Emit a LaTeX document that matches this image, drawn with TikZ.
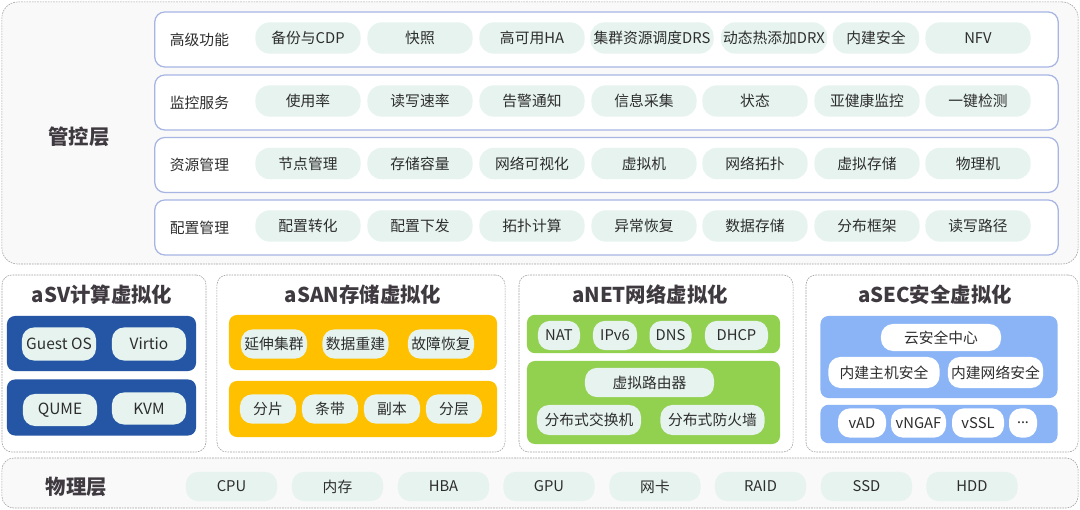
\documentclass[tikz,border=0pt]{standalone}
\usepackage{fontspec}
\setmainfont{Noto Sans CJK SC}
\newfontfamily\latinfont{Noto Sans}
\usepackage{tikz}
\usetikzlibrary{positioning}
\definecolor{cpgray}{RGB}{63,58,64}
\definecolor{cptext}{RGB}{45,45,45}
\definecolor{cpmint}{RGB}{230,243,239}
\definecolor{cprow}{RGB}{167,181,227}
\definecolor{cpback}{RGB}{249,249,249}
\definecolor{cpnavy}{RGB}{36,86,165}
\definecolor{cpyellow}{RGB}{255,192,0}
\definecolor{cpgreen}{RGB}{146,208,80}
\definecolor{cpsky}{RGB}{138,180,246}

\begin{document}
\begin{tikzpicture}[x=0.025cm,y=-0.025cm,
  layerbox/.style={draw=gray!75,dash pattern=on 1.2pt off 0.7pt,fill=cpback,rounded corners=0.4cm,
    minimum width=26.9cm,inner sep=0pt},
  modbox/.style={draw=gray!75,dash pattern=on 1.2pt off 0.7pt,fill=white,rounded corners=0.25cm,
    minimum height=4.425cm,inner sep=0pt},
  rowbox/.style={draw=cprow,line width=0.9pt,fill=white,rounded corners=0.25cm,
    minimum width=22.58cm,minimum height=1.375cm,inner sep=0pt},
  bar/.style={rounded corners=0.2cm,inner sep=0pt},
  chip/.style={fill=cpmint,rounded corners=0.35cm,minimum width=2.625cm,minimum height=0.78cm,
    inner sep=0pt,font=\fontsize{10.5}{12}\selectfont,text=cptext},
  pill/.style={chip,rounded corners=0.3cm,minimum height=0.73cm},
  wpill/.style={pill,fill=white},
  rowlabel/.style={anchor=west,font=\fontsize{10.5}{12}\selectfont,text=cptext},
  bigtitle/.style={font=\bfseries\fontsize{14.5}{16}\selectfont,text=cpgray}
]
  \useasboundingbox (0,0) rectangle (1080,510);

  % management layer
  \node[layerbox,minimum height=6.55cm] (mgmt) at (540,133) {};
  \node[bigtitle] (mgmtlabel) at (79,137) {管控层};

  % advanced features
  \node[rowbox] (rowadv) at (606.5,39.5) {};
  \node[rowlabel] (advlabel) at (165,39.5) {高级功能};
  \node[chip] (adv1) at (308,38) {备份与CDP};
  \node[chip] (adv2) at (420,38) {快照};
  \node[chip] (adv3) at (532,38) {高可用HA};
  \node[chip,minimum width=3.08cm] (adv4) at (652,38) {集群资源调度DRS};
  \node[chip,minimum width=2.65cm] (adv5) at (774,38) {动态热添加DRX};
  \node[chip,minimum width=2.15cm] (adv6) at (876,38) {内建安全};
  \node[chip] (adv7) at (978,38) {NFV};

  % monitoring
  \node[rowbox] (rowmon) at (606.5,102.5) {};
  \node[rowlabel] (monlabel) at (165,102.5) {监控服务};
  \node[chip] (mon1) at (308,101) {使用率};
  \node[chip] (mon2) at (420,101) {读写速率};
  \node[chip] (mon3) at (532,101) {告警通知};
  \node[chip] (mon4) at (644,101) {信息采集};
  \node[chip] (mon5) at (755,101) {状态};
  \node[chip] (mon6) at (867,101) {亚健康监控};
  \node[chip] (mon7) at (978,101) {一键检测};

  % resources
  \node[rowbox] (rowres) at (606.5,165) {};
  \node[rowlabel] (reslabel) at (165,165) {资源管理};
  \node[chip] (res1) at (308,163.5) {节点管理};
  \node[chip] (res2) at (420,163.5) {存储容量};
  \node[chip] (res3) at (532,163.5) {网络可视化};
  \node[chip] (res4) at (644,163.5) {虚拟机};
  \node[chip] (res5) at (755,163.5) {网络拓扑};
  \node[chip] (res6) at (867,163.5) {虚拟存储};
  \node[chip] (res7) at (978,163.5) {物理机};

  % configuration
  \node[rowbox] (rowcfg) at (606.5,227.5) {};
  \node[rowlabel] (cfglabel) at (165,227.5) {配置管理};
  \node[chip] (cfg1) at (308,226) {配置转化};
  \node[chip] (cfg2) at (420,226) {配置下发};
  \node[chip] (cfg3) at (532,226) {拓扑计算};
  \node[chip] (cfg4) at (644,226) {异常恢复};
  \node[chip] (cfg5) at (755,226) {数据存储};
  \node[chip] (cfg6) at (867,226) {分布框架};
  \node[chip] (cfg7) at (978,226) {读写路径};

  % aSV
  \node[modbox,minimum width=5.1cm] (asv) at (104,363.5) {};
  \node[bigtitle] (asvtitle) at (102,295) {aSV计算虚拟化};
  \node[bar,fill=cpnavy,minimum width=4.725cm,minimum height=1.375cm] (asvtop) at (101.5,343.5) {};
  \node[bar,fill=cpnavy,minimum width=4.725cm,minimum height=1.4cm] (asvbot) at (101.5,407.5) {};
  \node[chip,minimum width=1.85cm,minimum height=0.825cm,rounded corners=0.3cm,font=\fontsize{11}{12}\selectfont] (guest) at (59,344) {Guest OS};
  \node[chip,minimum width=1.85cm,minimum height=0.825cm,rounded corners=0.3cm,font=\fontsize{11}{12}\selectfont] (virtio) at (149,344) {Virtio};
  \node[chip,minimum width=1.85cm,minimum height=0.8cm,rounded corners=0.3cm,font=\fontsize{11}{12}\selectfont] (qume) at (60,410) {QUME};
  \node[chip,minimum width=1.85cm,minimum height=0.8cm,rounded corners=0.3cm,font=\fontsize{11}{12}\selectfont] (kvm) at (149,408.5) {KVM};

  % aSAN
  \node[modbox,minimum width=7.2cm] (asan) at (361,363.5) {};
  \node[bigtitle] (asantitle) at (363,295) {aSAN存储虚拟化};
  \node[bar,fill=cpyellow,minimum width=6.7cm,minimum height=1.375cm] (asantop) at (363,342.5) {};
  \node[bar,fill=cpyellow,minimum width=6.7cm,minimum height=1.4cm] (asanbot) at (363,409) {};
  \node[pill,minimum width=1.65cm] (stretch) at (274,344) {延伸集群};
  \node[pill,minimum width=1.65cm] (rebuild) at (355.5,344) {数据重建};
  \node[pill,minimum width=1.65cm] (recover) at (441,344) {故障恢复};
  \node[pill,minimum width=1.4cm] (shard) at (268,409) {分片};
  \node[pill,minimum width=1.4cm] (stripe) at (330,409) {条带};
  \node[pill,minimum width=1.4cm] (replica) at (392,409) {副本};
  \node[pill,minimum width=1.4cm] (tier) at (454,409) {分层};

  % aNET
  \node[modbox,minimum width=6.85cm] (anet) at (656,363.5) {};
  \node[bigtitle] (anettitle) at (650,295) {aNET网络虚拟化};
  \node[bar,fill=cpgreen,minimum width=6.325cm,minimum height=0.96cm] (anettop) at (653.5,334) {};
  \node[bar,fill=cpgreen,minimum width=6.325cm,minimum height=2.075cm] (anetbot) at (653.5,402.5) {};
  \node[pill,minimum width=1.05cm] (nat) at (559,335.5) {NAT};
  \node[pill,minimum width=1.1cm] (ipv6) at (615,335.5) {IPv6};
  \node[pill,minimum width=1.05cm] (dns) at (670.5,335.5) {DNS};
  \node[pill,minimum width=1.575cm] (dhcp) at (736.5,335.5) {DHCP};
  \node[pill,minimum width=3.225cm] (vrouter) at (649.5,382.5) {虚拟路由器};
  \node[pill,minimum width=2.6cm,minimum height=0.75cm] (dswitch) at (589,420) {分布式交换机};
  \node[pill,minimum width=2.6cm,minimum height=0.75cm] (dfw) at (712.5,420) {分布式防火墙};

  % aSEC
  \node[modbox,minimum width=6.8cm] (asec) at (942,363.5) {};
  \node[bigtitle] (asectitle) at (935,295) {aSEC安全虚拟化};
  \node[bar,fill=cpsky,minimum width=5.925cm,minimum height=2.05cm] (asectop) at (939,357) {};
  \node[bar,fill=cpsky,minimum width=5.925cm,minimum height=0.96cm] (asecbot) at (939,424) {};
  \node[wpill,minimum width=3cm,minimum height=0.675cm] (cloudsec) at (941,337.5) {云安全中心};
  \node[wpill,minimum width=2.775cm,minimum height=0.775cm] (hostsec) at (884,372.5) {内建主机安全};
  \node[wpill,minimum width=2.375cm,minimum height=0.775cm] (netsec) at (995.5,372.5) {内建网络安全};
  \node[wpill,minimum width=1.2cm] (vad) at (862,423) {vAD};
  \node[wpill,minimum width=1.375cm] (vngaf) at (918.5,423) {vNGAF};
  \node[wpill,minimum width=1.3cm] (vssl) at (978,423) {vSSL};
  \node[wpill,minimum width=0.7cm] (more) at (1023,423) {\latinfont ...};

  % physical layer
  \node[layerbox,minimum height=1.25cm,rounded corners=0.3cm] (phys) at (540,483) {};
  \node[bigtitle] (physlabel) at (76.5,486.5) {物理层};
  \node[pill,minimum width=2.275cm] (cpu) at (231.5,486.5) {CPU};
  \node[pill,minimum width=2.275cm] (mem) at (337.5,486.5) {内存};
  \node[pill,minimum width=2.275cm] (hba) at (443.5,486.5) {HBA};
  \node[pill,minimum width=2.275cm] (gpu) at (549,486.5) {GPU};
  \node[pill,minimum width=2.275cm] (nic) at (655,486.5) {网卡};
  \node[pill,minimum width=2.275cm] (raid) at (760.5,486.5) {RAID};
  \node[pill,minimum width=2.275cm] (ssd) at (866.5,486.5) {SSD};
  \node[pill,minimum width=2.275cm] (hdd) at (972,486.5) {HDD};
\end{tikzpicture}
\end{document}
